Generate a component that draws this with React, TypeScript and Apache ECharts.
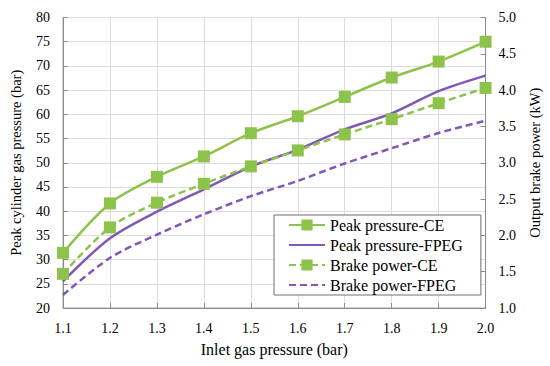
import React, { useEffect, useRef } from "react";
import * as echarts from "echarts";

const categories = ["1.1", "1.2", "1.3", "1.4", "1.5", "1.6", "1.7", "1.8", "1.9", "2.0"];
const peakPressureCE = [31.4, 41.6, 47.1, 51.3, 56.1, 59.6, 63.6, 67.6, 70.9, 75.0];
const peakPressureFPEG = [25.5, 34.4, 39.9, 44.5, 49.2, 52.7, 56.9, 60.2, 64.8, 68.0];
const brakePowerCE = [1.47, 2.11, 2.45, 2.71, 2.95, 3.17, 3.39, 3.6, 3.82, 4.03];
const brakePowerFPEG = [1.18, 1.69, 2.01, 2.29, 2.54, 2.75, 2.99, 3.2, 3.41, 3.58];

const GREEN = "#8DC34B";
const PURPLE = "#8357B8";
const FONT = "Liberation Serif";

export default function App() {
  const ref = useRef<HTMLDivElement>(null);
  useEffect(() => {
    if (!ref.current) return;
    const chart = echarts.init(ref.current, null, { renderer: "svg" });
    const axisLabel = { color: "#000", fontFamily: FONT, fontSize: 14 };
    const yNameStyle = { color: "#000", fontFamily: FONT, fontSize: 14.5 };
    const hiddenSymbol = { opacity: 0, color: "rgba(0,0,0,0)", borderWidth: 0 };
    chart.setOption({
      animation: false,
      backgroundColor: "#fff",
      textStyle: { fontFamily: FONT },
      grid: {
        left: 62,
        right: 64,
        top: 17.5,
        bottom: 58,
        show: true,
        borderColor: "#A6A6A6",
        borderWidth: 1,
      },
      legend: {
        orient: "vertical",
        left: 274,
        top: 215,
        itemWidth: 36,
        itemHeight: 14,
        itemGap: 4,
        padding: [2, 18, 2, 14],
        backgroundColor: "#fff",
        borderColor: "#707070",
        borderWidth: 1,
        borderRadius: 0,
        textStyle: { color: "#000", fontFamily: FONT, fontSize: 16 },
        data: [
          { name: "Peak pressure-CE" },
          { name: "Peak pressure-FPEG", itemStyle: hiddenSymbol },
          { name: "Brake power-CE" },
          { name: "Brake power-FPEG", itemStyle: hiddenSymbol },
        ],
      },
      xAxis: {
        type: "category",
        data: categories,
        boundaryGap: false,
        name: "Inlet gas pressure (bar)",
        nameLocation: "middle",
        nameGap: 33,
        nameTextStyle: { color: "#000", fontFamily: FONT, fontSize: 16 },
        axisLine: { lineStyle: { color: "#8C8C8C", width: 1 } },
        axisTick: { show: true, inside: true, length: 5, lineStyle: { color: "#8C8C8C" } },
        axisLabel: { ...axisLabel, margin: 13 },
        splitLine: { show: true, lineStyle: { color: "#DCDCDC", width: 1 } },
      },
      yAxis: [
        {
          type: "value",
          min: 20,
          max: 80,
          interval: 5,
          name: "Peak cylinder gas pressure (bar)",
          nameLocation: "middle",
          nameGap: 40,
          nameTextStyle: yNameStyle,
          axisLine: { show: true, lineStyle: { color: "#8C8C8C" } },
          axisTick: { show: true, inside: true, length: 5, lineStyle: { color: "#8C8C8C" } },
          axisLabel: { ...axisLabel, margin: 13 },
          splitLine: { show: true, lineStyle: { color: "#DCDCDC", width: 1 } },
        },
        {
          type: "value",
          min: 1,
          max: 5,
          interval: 0.5,
          name: "Output brake power (kW)",
          nameLocation: "middle",
          nameGap: 35,
          nameTextStyle: yNameStyle,
          axisLine: { show: true, lineStyle: { color: "#8C8C8C" } },
          axisTick: { show: true, inside: true, length: 5, lineStyle: { color: "#8C8C8C" } },
          axisLabel: { ...axisLabel, margin: 13, formatter: (v: number) => v.toFixed(1) },
          splitLine: { show: false },
        },
      ],
      series: [
        {
          name: "Peak pressure-CE",
          type: "line",
          yAxisIndex: 0,
          data: peakPressureCE,
          smooth: 0.3,
          symbol: "rect",
          symbolSize: 12,
          itemStyle: { color: GREEN },
          lineStyle: { color: GREEN, width: 2.5 },
          z: 4,
        },
        {
          name: "Peak pressure-FPEG",
          type: "line",
          yAxisIndex: 0,
          data: peakPressureFPEG,
          smooth: 0.3,
          showSymbol: false,
          symbol: "none",
          itemStyle: { color: PURPLE },
          lineStyle: { color: PURPLE, width: 2.5 },
          z: 2,
        },
        {
          name: "Brake power-CE",
          type: "line",
          yAxisIndex: 1,
          data: brakePowerCE,
          smooth: 0.3,
          symbol: "rect",
          symbolSize: 12,
          itemStyle: { color: GREEN },
          lineStyle: { color: GREEN, width: 2.5, type: [7, 4] },
          z: 3,
        },
        {
          name: "Brake power-FPEG",
          type: "line",
          yAxisIndex: 1,
          data: brakePowerFPEG,
          smooth: 0.3,
          showSymbol: false,
          symbol: "none",
          itemStyle: { color: PURPLE },
          lineStyle: { color: PURPLE, width: 2.5, type: [7, 4] },
          z: 2,
        },
      ],
    });
    return () => chart.dispose();
  }, []);
  return <div ref={ref} style={{ width: 550, height: 366, position: "absolute", left: 0, top: 0 }} />;
}
